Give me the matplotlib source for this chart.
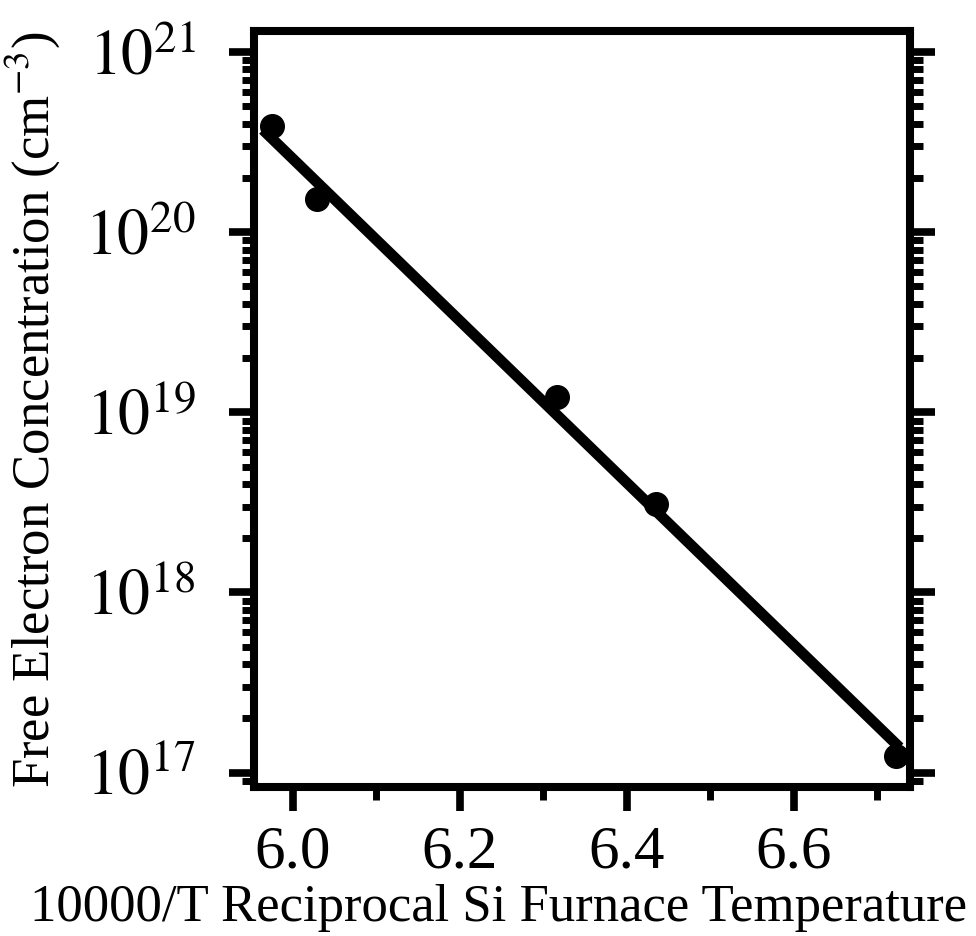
"""Free electron concentration vs reciprocal Si furnace temperature"""

import matplotlib
matplotlib.use("Agg")
import matplotlib.pyplot as plt
from matplotlib.ticker import LogLocator, MultipleLocator, FixedLocator, NullFormatter

# data
inv_temp = [5.975, 6.029, 6.316, 6.435, 6.723]
electrons = [3.9e20, 1.52e20, 1.21e19, 3.08e18, 1.24e17]

# straight-line fit as drawn (end points)
fit_x = [5.964, 6.727]
fit_y = [3.7e20, 1.38e17]

x_ticks = [6.0, 6.2, 6.4, 6.6]
y_exponents = [17, 18, 19, 20, 21]


def main() -> None:
    """Do the job"""
    plt.rcParams["font.family"] = ["Liberation Serif", "DejaVu Serif"]
    plt.rcParams["mathtext.fontset"] = "stix"

    fig = plt.figure(figsize=(9.76, 9.36), dpi=100)
    ax = fig.add_axes([0.260, 0.159, 0.672, 0.808])

    ax.plot(fit_x, fit_y, color="black", lw=7.8, solid_capstyle="butt")
    ax.plot(inv_temp, electrons, "o", color="black", ms=17, clip_on=False)

    ax.set_yscale("log")
    ax.set_xlim(5.953, 6.739)
    ax.set_ylim(8.3e16, 1.31e21)

    ax.xaxis.set_major_locator(FixedLocator(x_ticks))
    ax.xaxis.set_minor_locator(MultipleLocator(0.1))
    ax.set_xticklabels([f"{v:.1f}" for v in x_ticks])

    ax.yaxis.set_major_locator(FixedLocator([10.0 ** e for e in y_exponents]))
    ax.yaxis.set_minor_locator(LogLocator(base=10, subs=range(2, 10)))
    ax.yaxis.set_minor_formatter(NullFormatter())
    ax.set_yticklabels([f"$10^{{{e}}}$" for e in y_exponents])

    for s in ax.spines.values():
        s.set_linewidth(5.8)

    ax.tick_params(axis="both", which="major", direction="out", width=5.5, color="black")
    ax.tick_params(axis="y", which="major", length=18, labelsize=46, pad=24,
                   right=True)
    ax.tick_params(axis="y", which="minor", length=9, width=5, right=True)
    ax.tick_params(axis="x", which="major", length=17, labelsize=44, pad=10)
    ax.tick_params(axis="x", which="minor", length=9, width=5)

    ax.set_ylabel("Free Electron Concentration (cm$^{-3}$)", fontsize=38)
    ax.yaxis.set_label_coords(-0.292, 0.5)
    fig.text(0.511, 0.016, "10000/T Reciprocal Si Furnace Temperature",
             fontsize=38, ha="center", va="baseline")

    fig.savefig("out.png", dpi=100)


if __name__ == "__main__":
    main()
